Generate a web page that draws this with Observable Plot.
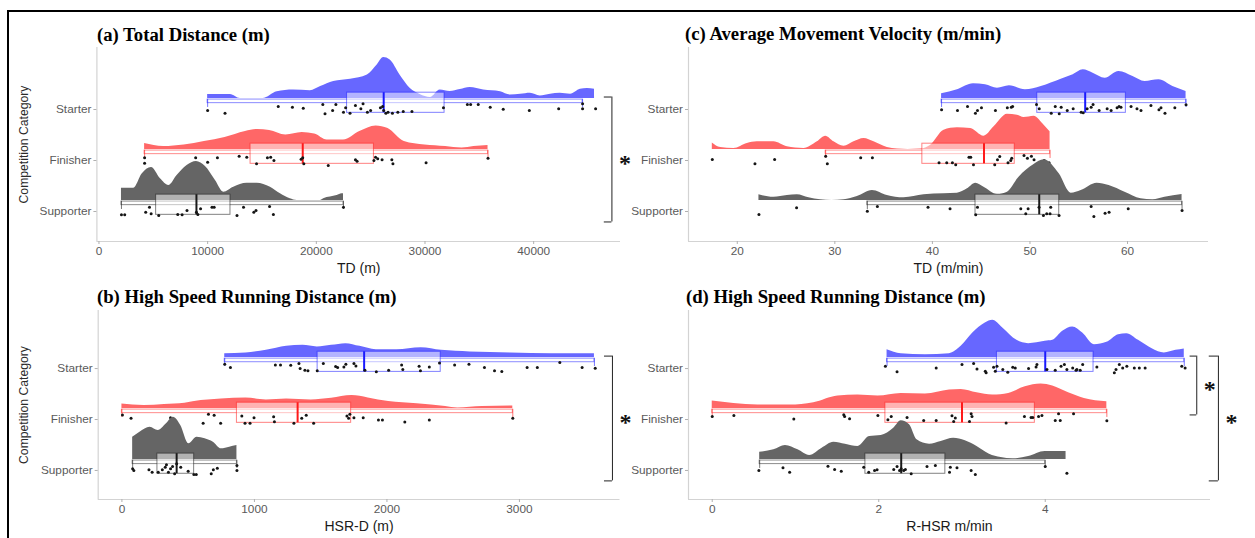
<!DOCTYPE html>
<html><head><meta charset="utf-8">
<script src="https://cdn.jsdelivr.net/npm/d3@7"></script>
<script src="https://cdn.jsdelivr.net/npm/@observablehq/plot@0.6"></script>
<style>
html,body{margin:0;padding:0;background:#fff;}
#root{position:relative;width:1255px;height:538px;overflow:hidden;background:#fff;font-family:"Liberation Sans",Arial,sans-serif;}
.frame{position:absolute;left:7px;top:10px;width:1300px;height:600px;border-top:2px solid #000;border-left:2px solid #000;}
.panel{position:absolute;}
.panel svg{overflow:visible;}
#titles{position:absolute;left:0;top:0;}
</style></head>
<body><div id="root"><div class="frame"></div></div>
<script>
// ---------- categories ----------
const categories = ["Starter", "Finisher", "Supporter"];
const catPos = {Starter: 3, Finisher: 2, Supporter: 1};
const catName = {3: "Starter", 2: "Finisher", 1: "Supporter"};

// ---------- tick labels ----------
const aTicks = [0, 10000, 20000, 30000, 40000];
const bTicks = [0, 1000, 2000, 3000];
const cTicks = [20, 30, 40, 50, 60];
const dTicks = [0, 2, 4];

// ---------- titles ----------
const titles = ["(a) Total Distance (m)", "(b) High Speed Running Distance (m)",
                "(c) Average Movement Velocity (m/min)", "(d) High Speed Running Distance (m)"];
const xLabels = ["TD (m)", "HSR-D (m)", "TD (m/min)", "R-HSR m/min"];
const yLabel = "Competition Category";

// ---------- box statistics [whiskerMin, Q1, median, Q3, whiskerMax] (Starter, Finisher, Supporter) ----------
const aBox = [[10000, 22830, 26200, 31800, 44500], [4200, 13950, 18750, 25300, 35800], [2070, 5260, 8970, 12100, 22500]];
const bBox = [[776, 1477, 1828, 2406, 3566], [0, 868, 1326, 1730, 2950], [81, 268, 413, 545, 868]];
const cBox = [[40.94, 50.75, 55.66, 59.83, 66.0], [29.06, 38.97, 45.29, 48.44, 52.06], [33.33, 44.42, 50.95, 53.0, 65.59]];
const dBox = [[2.10, 3.42, 4.0, 4.58, 5.67], [0, 2.08, 3.0, 3.875, 4.74], [0.57, 1.84, 2.27, 2.80, 4.0]];

// ---------- half-violin densities [value, scaled density] ----------
const aStarterDens = [[10000,4],[12100,4],[13000,0],[15100,0],[16400,6.8],[17900,8.5],[19450,7.8],[20400,12],[21600,17],[23150,19.2],[24700,23.5],[25600,33.5],[26200,41],[26800,38.5],[27700,23.5],[28650,10],[29550,4],[30500,1],[31400,8.5],[32300,7],[33250,9],[34150,11],[35400,8.5],[36950,6.8],[37850,3.5],[38800,4.2],[39700,5.2],[40600,2.5],[41550,4.2],[42450,5.2],[43400,4.2],[44300,9.2],[44950,10],[45600,9.2]];
const aFinisherDens = [[4200,6],[5950,3],[7840,4.5],[9700,8],[11600,12],[13480,18],[14600,20],[15700,19],[17200,14.5],[18700,17],[19850,15.5],[21000,9.5],[22500,9.5],[24000,18],[25500,23.5],[26600,21],[28100,8],[30000,4.5],[31900,3],[33400,1.5],[34500,3],[35800,4]];
const aSupporterDens = [[2070,12.3],[3200,12.3],[3970,26.5],[4830,33],[5660,21.7],[6420,15],[7190,25],[8110,35],[8970,39],[9800,34],[10720,20],[11480,8.3],[12400,13.3],[13630,17.3],[14550,17.3],[15780,13.3],[16700,6.7],[17600,1.7],[18230,0],[20380,0],[20680,1.7],[21910,5],[22370,6.7],[22500,6.7]];

const bStarterDens = [[776,4],[936,4.7],[1090,7.3],[1243,11.3],[1366,12.3],[1474,10.7],[1582,12.3],[1690,14],[1797,11.3],[1920,8],[2074,8],[2259,10],[2412,7.3],[2628,5.7],[2935,4.7],[3243,4],[3566,4]];
const bFinisherDens = [[0,4.5],[167,3],[321,4],[475,5.3],[598,8],[751,9.7],[936,10.7],[1090,8.7],[1243,9.7],[1428,8.7],[1582,10.3],[1736,13],[1859,10.7],[2013,7],[2228,4.7],[2443,2],[2535,0.5],[2720,2],[2950,2.5]];
const bSupporterDens = [[81,22.3],[136,27.3],[213,32.3],[274,29],[336,35.7],[388,42.3],[444,34],[505,15.7],[567,22.3],[628,20.7],[690,17.3],[751,10.7],[813,12.3],[868,14]];

const cStarterDens = [[40.94,4.7],[42.57,8.7],[44.21,14.7],[45.44,13.7],[46.67,10.3],[47.89,12.7],[49.53,8.7],[51.16,12],[53.2,19.3],[54.43,23.7],[55.46,28.7],[56.47,25.3],[57.7,20.3],[59.13,27],[60.56,22],[61.79,17],[63.22,18.7],[64.65,12],[66.0,7]];
const cFinisherDens = [[17.44,6.6],[18.29,2],[19.65,1],[21.03,6],[22.05,7.7],[23.75,7.7],[25.13,2.7],[26.83,1],[28.21,7.7],[29.06,13.3],[29.91,7.7],[30.94,3.3],[31.96,7.7],[32.99,11],[34.01,7.7],[35.38,2],[36.41,0.5],[37.5,0],[38.8,0.5],[39.83,4.3],[41.19,19.3],[42.56,21.7],[43.93,21],[45.29,13.3],[46.32,22.7],[47.69,35.3],[48.72,34.3],[49.39,32],[50.42,33.3],[51.45,24.3],[52.06,17.7]];
const cSupporterDens = [[22.22,5.7],[23.75,3.3],[25.13,5],[26.15,5.7],[27.34,2.7],[28.54,0.7],[29.7,0],[30.94,0.7],[32.31,4],[33.85,10],[35.38,5],[37.09,2.7],[39.14,5.7],[41.19,6.7],[42.56,7.3],[43.59,11.7],[44.44,17.3],[45.29,13.3],[46.67,6],[47.69,8.3],[48.88,23.3],[50.42,36],[51.45,40.7],[53.0,26.7],[54.22,7.3],[55.25,10],[56.88,17.3],[58.11,15],[59.74,8.3],[61.38,1.7],[62.6,0.7],[63.83,3.3],[65.59,6]];

const dStarterDens = [[2.10,8],[2.27,4],[2.56,3],[2.85,4],[2.99,11.3],[3.13,24.7],[3.28,34.7],[3.37,37.3],[3.49,29.7],[3.66,17.3],[3.80,14],[4.00,16.3],[4.09,17.3],[4.21,26.3],[4.33,30.7],[4.45,24.7],[4.59,13],[4.74,15.3],[4.88,23],[4.98,24],[5.12,17.3],[5.29,8.7],[5.43,4.7],[5.57,7.3],[5.67,8.7]];
const dFinisherDens = [[0,7.5],[0.26,5],[0.55,3.5],[0.93,3.5],[1.22,5.8],[1.51,12.5],[1.75,13.5],[1.99,12.5],[2.27,15.2],[2.56,14.5],[2.85,18.5],[2.99,19.2],[3.18,15.8],[3.37,13.5],[3.56,15.2],[3.76,21.8],[3.95,24.5],[4.09,22.5],[4.28,15.8],[4.47,10.2],[4.74,6.8]];
const dSupporterDens = [[0.57,7.3],[0.74,9.7],[0.88,14],[1.03,9.7],[1.17,4],[1.32,11.3],[1.46,17.3],[1.60,15.3],[1.75,13],[1.89,23],[2.03,24],[2.18,31.3],[2.27,38.7],[2.37,34.7],[2.46,19.7],[2.61,15.3],[2.75,18],[2.90,21.3],[3.04,18.7],[3.18,13],[3.33,5.3],[3.47,2],[3.61,0.7],[3.80,3],[4.0,8],[4.25,8]];

// ---------- individual observations [value, jitter] ----------
const aStarterPts = [[10000,1],[11600,3.7],[16500,-3],[17800,-2.3],[18800,-1.3],[20600,-5],[20800,4.3],[21500,1],[21800,-5],[22500,2.7],[22700,-1.7],[23100,3.7],[23600,-4],[24100,-0.7],[24300,-5.7],[24700,2.7],[25000,1],[25900,-1.7],[26100,-3],[26200,1],[26400,3.7],[26600,2.7],[27000,3.7],[27500,2.7],[28000,2],[28800,2],[31700,-1.7],[33900,-5],[34200,-5],[34900,-5],[36000,-2.3],[37200,-0.3],[39600,1],[42300,-0.7],[44500,-0.7],[44500,-5.7],[45700,-0.7]];
const aFinisherPts = [[4200,-2.7],[4200,2.7],[8900,-2.7],[10000,1.7],[10900,-2.7],[12900,-4.3],[13600,-3.3],[14500,3.3],[15500,-2.7],[15800,-3.3],[16100,0],[18600,-1.3],[18750,-2.7],[18850,3.3],[21100,5],[23600,-0.7],[23750,0.7],[25300,0],[25450,-3.3],[25650,-1.7],[26050,-0.7],[26950,-0.7],[27050,3.3],[30100,2.3],[35800,-2.3]];
const aSupporterPts = [[2070,3.3],[2370,3.3],[4300,0.7],[4650,-4.3],[4800,2.3],[5500,4],[7250,3],[7650,3.3],[8100,-1],[8970,0.7],[9100,3],[9350,-2.7],[10400,-4.3],[10600,-4.3],[12700,4],[13300,-4.3],[14250,0.7],[14450,-1],[15700,-5],[16050,3],[22500,-4.3]];

const bStarterPts = [[776,-4.4],[819,-1],[1158,-3.7],[1197,-3.7],[1274,-3.4],[1336,-5],[1345,0],[1381,1.6],[1404,2.3],[1474,2.3],[1520,-5],[1613,-2],[1628,-1],[1675,-1.7],[1690,-4.4],[1751,-5],[1766,-2.7],[1834,1.6],[1920,3.3],[2013,1.6],[2111,-3.7],[2120,1],[2243,-2.4],[2253,2.3],[2320,-1.7],[2397,-5.7],[2511,-3.7],[2619,-4.4],[2736,-1],[2812,2.3],[2867,3],[3058,-1],[3135,-1],[3305,-6],[3473,-1],[3572,-0.4]];
const bFinisherPts = [[4,-4.5],[69,-1.2],[367,-1.8],[613,3.8],[653,-5.2],[696,-4.2],[745,3.8],[905,-3.5],[929,3.8],[967,3.8],[997,-1.8],[1145,-2.8],[1151,2.2],[1298,3.8],[1357,-1.2],[1391,-4.2],[1447,3.8],[1698,-3.5],[1711,-1.2],[1720,-5.2],[1751,-1.8],[1821,-1.8],[1936,0.5],[1966,0.5],[2135,2.5],[2320,0.5],[2950,-1.2]];
const bSupporterPts = [[81,-1.7],[90,0],[204,-0.7],[228,1.7],[274,1.7],[305,-0.7],[327,-3.3],[336,-5.7],[351,1.7],[367,-1.7],[382,-4],[398,3.3],[413,-6.7],[444,-3.3],[500,0.7],[543,4],[561,4],[674,3.3],[690,-0.7],[720,-2.3],[868,-5],[868,0]];

const cStarterPts = [[40.94,0.3],[42.57,1],[43.6,-3],[44.41,3.7],[44.62,1],[45.03,-1.7],[46.46,1],[47.68,-1.7],[48.09,-2.3],[48.22,-3],[50.67,-5],[50.95,-0.7],[52.18,3.7],[52.59,-3],[53.0,4.3],[53.2,-2.3],[53.82,1],[54.43,-0.7],[55.25,2.7],[55.46,3.3],[55.86,-0.7],[56.27,-2.3],[56.47,-5],[57.09,1],[57.91,-0.7],[58.32,1],[58.93,-1.7],[59.13,-3],[59.33,-2.3],[60.36,-3],[60.97,-0.7],[61.38,1],[62.4,-4],[63.22,0.3],[63.43,-1.7],[63.84,3.7],[64.85,-1.7],[66.0,-4.7]];
const cFinisherPts = [[17.44,-1],[21.81,3.3],[23.83,-1],[29.06,-4.3],[29.23,3.3],[32.65,-2.7],[33.85,-2.7],[40.68,2.3],[41.47,2.3],[42.05,2.3],[42.39,4.3],[43.75,-3.3],[43.93,-3.3],[44.21,4.3],[46.39,4.3],[46.67,-0.7],[46.9,-4],[47.75,2.3],[48.03,0],[48.13,-2.3],[49.39,-5],[49.74,-2.3],[50.15,-4.3],[50.42,-0.7],[50.93,3.3],[51.45,0],[51.96,2.3]];
const cSupporterPts = [[22.22,3],[26.08,-3.7],[33.33,-0.3],[34.36,-5],[39.55,-4.3],[41.81,-2.7],[44.44,3.3],[44.62,-4.3],[49.06,-2.7],[49.57,2.3],[49.81,-2.7],[50.93,-4.3],[51.38,4],[51.72,2.3],[52.06,2.3],[52.13,-4.3],[52.98,4],[56.27,-5],[56.55,5],[57.7,1.7],[58.11,0.7],[60.07,-2.7],[65.59,-1]];

const dStarterPts = [[2.08,-2.3],[2.22,3.3],[2.69,-0.7],[3.0,-4],[3.14,-5],[3.18,0.3],[3.28,2.7],[3.29,4.3],[3.38,-1.3],[3.40,2.7],[3.42,-2.3],[3.49,1],[3.55,3.7],[3.61,-1.3],[3.64,-0.7],[3.80,0],[3.89,-1.7],[3.90,-4],[4.02,1],[4.12,1.7],[4.19,-2.3],[4.23,-4],[4.26,1],[4.33,-0.7],[4.37,1.7],[4.38,1],[4.42,1.7],[4.45,-4],[4.62,-1.7],[4.83,4.3],[4.85,1],[4.89,-4],[4.93,-0.7],[4.98,-2.3],[5.07,-0.7],[5.13,-0.7],[5.20,-0.7],[5.64,-2.3],[5.68,-0.7]];
const dFinisherPts = [[0.0,-3],[0.26,-4],[0.98,-0.4],[1.58,-4.7],[1.59,-3],[1.65,-0.7],[1.99,-4],[2.11,0.3],[2.15,-3],[2.34,-2],[2.54,1],[2.69,1],[2.88,-3.7],[2.90,2],[2.92,-1.4],[3.09,2],[3.11,-5.7],[3.12,-3],[3.53,3.6],[3.75,-3],[3.83,-2],[3.85,-2],[3.92,-3],[3.96,-4],[4.12,1],[4.16,-5.7],[4.18,1],[4.34,-5.7],[4.74,1.3]];
const dSupporterPts = [[0.56,0],[0.85,-2.7],[0.93,1.7],[1.39,-4.3],[1.47,-1],[1.55,0.7],[1.82,-3.3],[1.88,1.7],[1.95,0],[1.98,-0.7],[2.18,-1],[2.22,-4],[2.25,0],[2.27,-1.7],[2.30,0],[2.32,-1],[2.39,3.3],[2.58,-4],[2.68,-5],[2.85,1.7],[2.86,-3.3],[2.94,-2.7],[3.11,0],[3.16,4],[4.0,-4],[4.26,2.7]];

// ---------- significance brackets ----------
const aBrackets = [{from: "Starter", to: "Supporter", x: 47200, x0: 46500, label: "*"}];
const bBrackets = [{from: "Starter", to: "Supporter", x: 3702, x0: 3642, label: "*"}];
const cBrackets = [];
const dBrackets = [{from: "Starter", to: "Finisher", x: 5.82, x0: 5.74, label: "*"},
                   {from: "Starter", to: "Supporter", x: 6.08, x0: 5.97, label: "*"}];

// ---------- styles ----------
const densFill = {Starter: "#6767ff", Finisher: "#ff6767", Supporter: "#656565"};
const lineCol = {Starter: "#1a1aff", Finisher: "#ff1a1a", Supporter: "#1a1a1a"};
const UNIT = 51; // px per category step; density heights and jitter were read in these units

function panel(o) {
  const marks = [];
  marks.push(Plot.ruleY([o.yDomain[0]], {stroke: "#d3d3d3", strokeWidth: 1.2}));
  marks.push(Plot.ruleX([o.xDomain[0]], {stroke: "#d3d3d3", strokeWidth: 1.2}));
  marks.push(Plot.axisX(o.ticks, {tickSize: 3, tickPadding: 2.5, fontSize: 11.8, stroke: "#b0b0b0", fill: "#5a5a5a", label: null, tickFormat: d => String(d)}));
  marks.push(Plot.axisY([1, 2, 3], {tickSize: 3, tickPadding: 2.5, fontSize: 11.8, stroke: "#b0b0b0", fill: "#5a5a5a", label: null, tickFormat: d => catName[d]}));
  categories.forEach((cat, i) => {
    const c = catPos[cat];
    const dens = o.dens[i].map(([v, h]) => ({v, h}));
    const [wmin, q1, med, q3, wmax] = o.box[i];
    marks.push(Plot.areaY(dens, {x: "v", y1: () => c + 0.215, y2: d => c + 0.215 + d.h / UNIT, fill: densFill[cat], curve: "monotone-x"}));
    marks.push(Plot.rect([o.box[i]], {x1: () => wmin, x2: () => wmax, y1: () => c + 0.125, y2: () => c + 0.195, stroke: lineCol[cat], strokeOpacity: 0.5, fill: "#fff", fillOpacity: 0.7}));
    marks.push(Plot.ruleX([wmin, wmax], {x: d => d, y1: () => c + 0.04, y2: () => c + 0.2, stroke: lineCol[cat], strokeOpacity: 0.6}));
    marks.push(Plot.rect([o.box[i]], {x1: () => q1, x2: () => q3, y1: () => c - 0.065, y2: () => c + 0.33, stroke: lineCol[cat], strokeOpacity: 0.55, fill: "#fff", fillOpacity: 0.5}));
    marks.push(Plot.ruleX([med], {x: d => d, y1: () => c - 0.065, y2: () => c + 0.33, stroke: lineCol[cat], strokeWidth: 2}));
    marks.push(Plot.dot(o.pts[i], {x: d => d[0], y: d => c - d[1] / UNIT, r: 1.5, fill: "#151515", stroke: "none"}));
  });
  o.brackets.forEach(b => {
    const top = catPos[b.from] + 0.245;
    const bot = b.to === "Finisher" ? catPos[b.to] + 0.09 : catPos[b.to] - 0.205;
    marks.push(Plot.ruleX([b], {x: "x", y1: () => top, y2: () => bot, stroke: "#222", strokeWidth: 1}));
    marks.push(Plot.ruleY([top, bot], {y: d => d, x1: () => b.x0, x2: () => b.x, stroke: "#222", strokeWidth: 1}));
    marks.push(Plot.text([b], {x: "x", y: () => (top + bot) / 2, text: "label", dx: 13, dy: 4, fontSize: 24, fontFamily: "'Liberation Serif', serif", fontWeight: "bold", fill: "#111", lineAnchor: "middle"}));
  });
  marks.push(Plot.text([o.xLabel], {frameAnchor: "bottom", dy: 27, fontSize: 14, fill: "#1a1a1a", lineAnchor: "middle", textAnchor: "middle"}));
  if (o.yLabel) marks.push(Plot.text([o.yLabel], {frameAnchor: "left", dx: -(o.ml - 24), rotate: -90, fontSize: 12.2, fill: "#2a2a2a", lineAnchor: "middle", textAnchor: "middle"}));

  const svg = Plot.plot({
    width: o.w, height: o.h,
    marginLeft: o.ml, marginRight: o.mr, marginTop: o.mt, marginBottom: o.mb,
    x: {domain: o.xDomain},
    y: {domain: o.yDomain},
    style: {background: "transparent", overflow: "visible", fontFamily: "'Liberation Sans', Arial, sans-serif"},
    marks
  });
  const div = document.createElement("div");
  div.className = "panel";
  div.style.left = o.left + "px";
  div.style.top = o.top + "px";
  div.style.width = o.w + "px";
  div.style.height = o.h + "px";
  div.appendChild(svg);
  document.getElementById("root").appendChild(div);
}

panel({left: 0, top: 0, w: 640, h: 280, ml: 96.4, mr: 20, mt: 47, mb: 39,
  xDomain: [-190, 47990], yDomain: [0.412, 4.216], ticks: aTicks,
  dens: [aStarterDens, aFinisherDens, aSupporterDens], box: aBox, pts: [aStarterPts, aFinisherPts, aSupporterPts],
  brackets: aBrackets, xLabel: xLabels[0], yLabel: yLabel});
panel({left: 0, top: 262, w: 640, h: 276, ml: 97.7, mr: 20.5, mt: 48, mb: 39,
  xDomain: [-179, 3759], yDomain: [0.43, 4.14], ticks: bTicks,
  dens: [bStarterDens, bFinisherDens, bSupporterDens], box: bBox, pts: [bStarterPts, bFinisherPts, bSupporterPts],
  brackets: bBrackets, xLabel: xLabels[1], yLabel: yLabel});
panel({left: 620, top: 0, w: 635, h: 280, ml: 68, mr: 47, mt: 47, mb: 39,
  xDomain: [15.0, 68.3], yDomain: [0.412, 4.216], ticks: cTicks,
  dens: [cStarterDens, cFinisherDens, cSupporterDens], box: cBox, pts: [cStarterPts, cFinisherPts, cSupporterPts],
  brackets: cBrackets, xLabel: xLabels[2], yLabel: null});
panel({left: 620, top: 262, w: 635, h: 276, ml: 68, mr: 45, mt: 48, mb: 39,
  xDomain: [-0.285, 5.985], yDomain: [0.43, 4.14], ticks: dTicks,
  dens: [dStarterDens, dFinisherDens, dSupporterDens], box: dBox, pts: [dStarterPts, dFinisherPts, dSupporterPts],
  brackets: dBrackets, xLabel: xLabels[3], yLabel: null});

// panel titles
const tsvg = d3.select("#root").append("svg").attr("id", "titles").attr("width", 1255).attr("height", 538);
const titlePos = [[97, 41], [97, 303], [685, 39.5], [686, 302.5]];
titles.forEach((t, i) => {
  tsvg.append("text").attr("x", titlePos[i][0]).attr("y", titlePos[i][1])
    .attr("font-family", "'Liberation Serif', 'Times New Roman', serif").attr("font-weight", "bold")
    .attr("font-size", 18.7).attr("fill", "#000").text(t);
});
</script></body></html>
